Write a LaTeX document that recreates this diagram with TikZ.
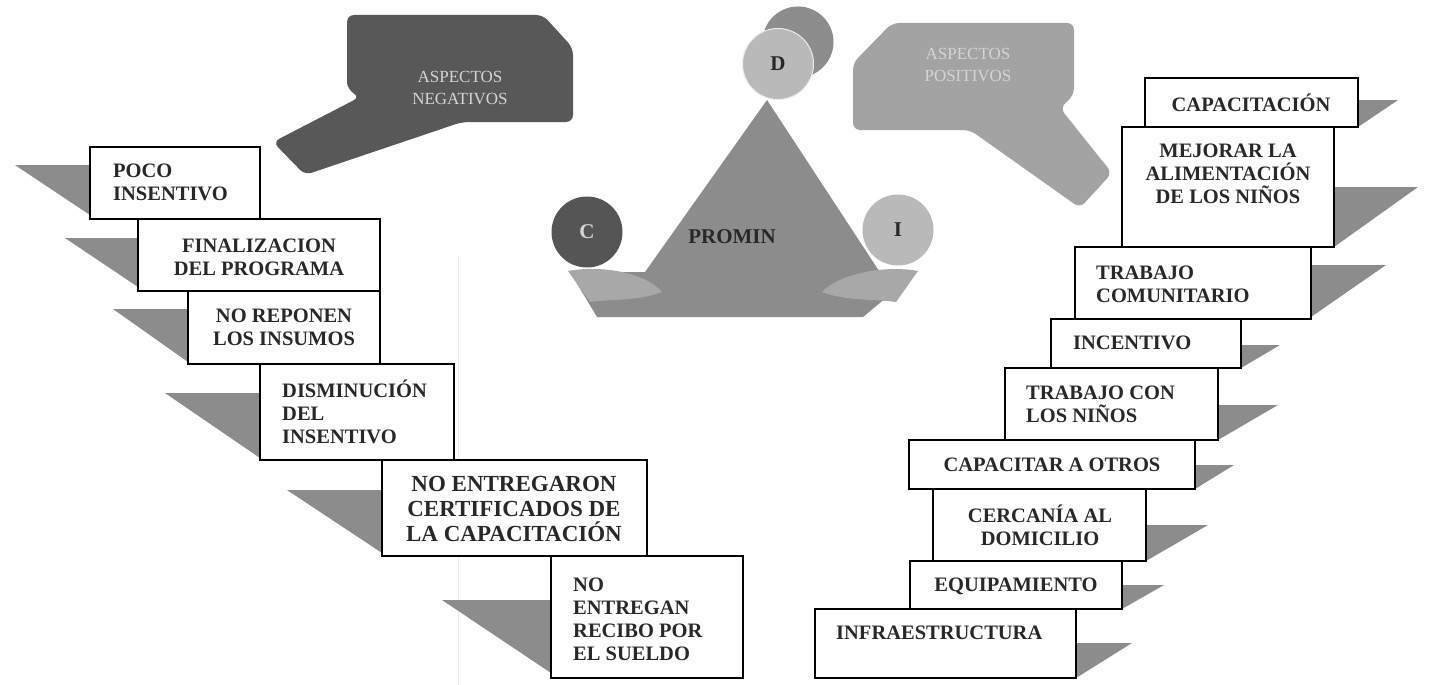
\documentclass[tikz,border=0pt]{standalone}
\usepackage{fontspec}
\setmainfont{Liberation Serif}[BoldFont = * Bold]
\usetikzlibrary{fit}

\definecolor{shadegray}{RGB}{140,140,140}
\definecolor{negfill}{RGB}{88,88,88}
\definecolor{posfill}{RGB}{163,163,163}
\definecolor{pyrfill}{RGB}{140,140,140}
\definecolor{handfill}{RGB}{168,168,168}
\definecolor{inktext}{RGB}{40,40,40}
\definecolor{asptext}{RGB}{212,212,212}
\definecolor{ballback}{RGB}{141,141,141}
\definecolor{balllight}{RGB}{185,185,185}
\definecolor{balldark}{RGB}{85,85,85}

\begin{document}
\begin{tikzpicture}[x=1pt,y=-1pt,
  itembox/.style={draw=black, line width=2pt, fill=white, inner sep=0pt},
  itemtext/.style={text=inktext, font=\bfseries\fontsize{20.5}{23}\selectfont, inner sep=0pt},
  bigtext/.style={text=inktext, font=\bfseries\fontsize{23}{25}\selectfont, inner sep=0pt},
  shadowtri/.style={fill=shadegray},
  aspect/.style={text=asptext, font=\fontsize{17}{22}\selectfont, align=center, inner sep=0pt},
  ball/.style={circle, inner sep=0pt, minimum size=71pt, font=\bfseries\fontsize{21}{21}\selectfont}]

\useasboundingbox (0,0) rectangle (1437,685);
\fill[white] (0,0) rectangle (1437,685);

% faint guide line down the middle of the left column
\draw[gray!15, line width=1pt] (458,255) -- (458,685);

% ---------- callouts ----------
\fill[negfill, rounded corners=7] (360,97) .. controls (351,92) and (347,86) .. (347,76)
  -- (347,15) -- (543,15) -- (573,48) -- (573,122) -- (462,122) -- (305,175) -- (273,142) -- cycle;
\node[aspect] (negtitle) at (460,88) {ASPECTOS\\NEGATIVOS};

\fill[posfill, rounded corners=7] (892,23) -- (1074,23) -- (1074,95) -- (1060,108)
  -- (1112,173) -- (1080,208) -- (970,130) -- (853,130) -- (853,63) -- cycle;
\node[aspect] (postitle) at (968,65) {ASPECTOS\\POSITIVOS};

% ---------- pyramid ----------
\fill[pyrfill] (767,100) -- (883,277) -- (917,272) -- (863,317) -- (597,317)
  -- (570,272) -- (645,272) -- cycle;
\fill[handfill] (568,271) .. controls (600,265) and (645,272) .. (662,292)
  .. controls (640,301) and (610,299) .. (590,302) -- cycle;
\fill[handfill] (918,271) .. controls (886,265) and (840,273) .. (822,292)
  .. controls (845,301) and (875,299) .. (896,302) -- cycle;
\node[text=inktext, font=\bfseries\fontsize{21}{21}\selectfont] (promin) at (732,237) {PROMIN};

\node[ball, fill=ballback] (dback) at (798,42) {};
\node[ball, fill=balllight, draw=white!85!gray, line width=1pt, text=inktext] (dball) at (778,64) {D};
\node[ball, fill=balldark, text=asptext] (cball) at (587,232) {C};
\node[ball, fill=balllight, text=inktext] (iball) at (898,230) {I};

% ---------- negative aspects (left staircase) ----------
\fill[shadowtri] (15,165) -- (90,165) -- (90,215) -- cycle;
\fill[shadowtri] (65,238) -- (138,238) -- (138,287) -- cycle;
\fill[shadowtri] (113,309) -- (188,309) -- (188,362) -- cycle;
\fill[shadowtri] (165,393) -- (260,393) -- (260,458) -- cycle;
\fill[shadowtri] (287,490) -- (382,490) -- (382,553) -- cycle;
\fill[shadowtri] (442,600) -- (551,600) -- (551,673) -- cycle;

\node[itembox, fit={(90,147) (260,219)}] (neg1) {};
\node[itembox, fit={(138,219) (380,291)}] (neg2) {};
\node[itembox, fit={(188,291) (380,364)}] (neg3) {};
\node[itembox, fit={(260,364) (454,460)}] (neg4) {};
\node[itembox, fit={(382,460) (647,556)}] (neg5) {};
\node[itembox, fit={(551,556) (743,678)}] (neg6) {};

\node[itemtext, align=left, anchor=west] (neg1t) at (113,182) {POCO\\INSENTIVO};
\node[itemtext, align=center] (neg2t) at (259,257) {FINALIZACION\\DEL PROGRAMA};
\node[itemtext, align=center] (neg3t) at (284,327) {NO REPONEN\\LOS INSUMOS};
\node[itemtext, align=left, anchor=west] (neg4t) at (282,412) {DISMINUCIÓN\\DEL\\INSENTIVO};
\node[bigtext, align=center] (neg5t) at (514,509) {NO ENTREGARON\\CERTIFICADOS DE\\LA CAPACITACIÓN};
\node[itemtext, align=left, anchor=west] (neg6t) at (573,619) {NO\\ENTREGAN\\RECIBO POR\\EL SUELDO};

% ---------- positive aspects (right staircase) ----------
\fill[shadowtri] (1358,100) -- (1398,100) -- (1358,127) -- cycle;
\fill[shadowtri] (1334,187) -- (1418,187) -- (1334,247) -- cycle;
\fill[shadowtri] (1311,265) -- (1386,265) -- (1311,317) -- cycle;
\fill[shadowtri] (1241,345) -- (1280,345) -- (1241,368) -- cycle;
\fill[shadowtri] (1218,405) -- (1278,405) -- (1218,440) -- cycle;
\fill[shadowtri] (1195,465) -- (1234,465) -- (1195,489) -- cycle;
\fill[shadowtri] (1146,525) -- (1208,525) -- (1146,561) -- cycle;
\fill[shadowtri] (1122,585) -- (1164,585) -- (1122,609) -- cycle;
\fill[shadowtri] (1076,643) -- (1132,643) -- (1076,678) -- cycle;

\node[itembox, fit={(1145,78) (1358,127)}] (pos1) {};
\node[itembox, fit={(1122,127) (1334,247)}] (pos2) {};
\node[itembox, fit={(1075,247) (1311,319)}] (pos3) {};
\node[itembox, fit={(1051,319) (1241,368)}] (pos4) {};
\node[itembox, fit={(1005,368) (1218,440)}] (pos5) {};
\node[itembox, fit={(909,440) (1195,489)}] (pos6) {};
\node[itembox, fit={(933,489) (1146,561)}] (pos7) {};
\node[itembox, fit={(910,561) (1122,609)}] (pos8) {};
\node[itembox, fit={(815,609) (1076,678)}] (pos9) {};

\node[itemtext] (pos1t) at (1251,103) {CAPACITACIÓN};
\node[itemtext, align=center] (pos2t) at (1228,174) {MEJORAR LA\\ALIMENTACIÓN\\DE LOS NIÑOS};
\node[itemtext, align=left, anchor=west] (pos3t) at (1096,284) {TRABAJO\\COMUNITARIO};
\node[itemtext, anchor=west] (pos4t) at (1073,343) {INCENTIVO};
\node[itemtext, align=left, anchor=west] (pos5t) at (1026,404) {TRABAJO CON\\LOS NIÑOS};
\node[itemtext] (pos6t) at (1052,465) {CAPACITAR A OTROS};
\node[itemtext, align=center] (pos7t) at (1040,525) {CERCANÍA AL\\DOMICILIO};
\node[itemtext] (pos8t) at (1016,586) {EQUIPAMIENTO};
\node[itemtext, anchor=west] (pos9t) at (836,633) {INFRAESTRUCTURA};

\end{tikzpicture}
\end{document}
